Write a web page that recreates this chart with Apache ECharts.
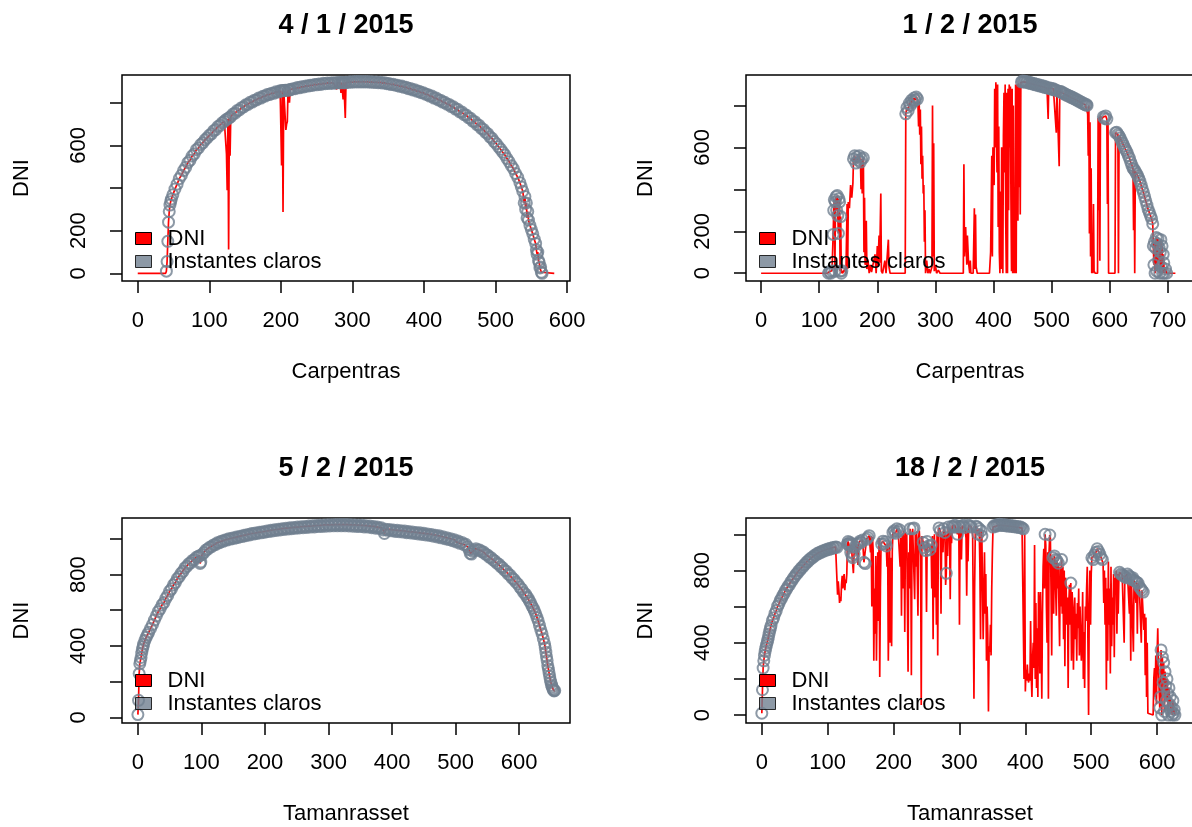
<!DOCTYPE html>
<html><head><meta charset="utf-8">
<script src="https://cdn.jsdelivr.net/npm/echarts@6/dist/echarts.min.js"></script>
<style>html,body{margin:0;padding:0;background:#fff}#c{width:1192px;height:827px}</style>
</head><body><div id="c"></div>
<script>
// ---------------- DATA ----------------
const titles = ['4 / 1 / 2015', '1 / 2 / 2015', '5 / 2 / 2015', '18 / 2 / 2015'];
const sites = ['Carpentras', 'Carpentras', 'Tamanrasset', 'Tamanrasset'];
const legendNames = ['DNI', 'Instantes claros'];

const xTicks1 = [0, 100, 200, 300, 400, 500, 600];
const xTicks2 = [0, 100, 200, 300, 400, 500, 600, 700];
const xTicks3 = [0, 100, 200, 300, 400, 500, 600];
const xTicks4 = [0, 100, 200, 300, 400, 500, 600];
const yTicksTop = [0, 200, 400, 600, 800];
const yLabelsTop = [0, 200, 600];
const yTicksBottom = [0, 200, 400, 600, 800, 1000];
const yLabelsBottom = [0, 400, 800];

// Panel 1 : 4/1/2015 Carpentras  (minute index, DNI)
const p1Time = [0,39,40,41,42,43,44,45,46,47,
49,52,55,58,61,64,67,70,73,76,
79,82,85,88,91,94,97,100,103,106,
109,112,115,118,121,123,124,125,126,127,
128,129,130,133,136,139,142,145,148,151,
154,157,160,163,166,169,172,175,178,181,
184,187,190,193,196,199,200,201,202,203,
204,205,206,207,208,209,210,211,212,213,
214,217,220,223,226,229,232,235,238,241,
244,247,250,253,256,259,262,265,268,271,
274,276,278,279,281,283,284,285,286,287,
288,289,290,291,294,297,300,303,306,309,
312,315,318,321,324,327,330,333,336,339,
342,345,348,351,354,357,360,363,366,369,
372,375,378,381,384,387,390,393,396,399,
402,405,408,411,414,417,420,423,426,429,
432,435,438,441,444,447,450,453,456,459,
462,465,468,471,474,477,480,483,486,489,
492,495,498,501,504,507,510,513,516,519,
522,525,528,531,534,536,538,540,541,542,
543,544,545,546,548,550,552,554,556,557,
558,559,560,561,562,563,564,565,582];
const p1Dni = [0,0,10,55,150,240,290,320,336,348,
368,395,418,444,460,482,497,519,530,550,
560,580,588,604,612,626,635,647,654,668,
674,688,694,706,712,720,560,390,725,112,
730,551,735,747,751,763,766,777,780,790,
792,802,803,812,813,822,822,830,831,838,
838,845,844,851,850,856,855,506,856,288,
857,857,858,672,700,711,860,859,800,861,
862,866,866,871,870,875,874,879,878,882,
881,886,884,888,886,891,889,893,890,894,
891,894,862,894,895,893,846,895,894,815,
895,893,728,896,895,898,896,899,897,899,
897,899,897,899,896,898,895,897,894,896,
892,894,889,890,885,887,882,882,877,878,
872,873,866,867,860,861,854,854,847,847,
840,839,831,831,822,822,813,812,803,802,
793,792,782,781,770,769,757,756,744,742,
730,727,714,711,697,694,680,675,661,655,
640,633,618,608,594,582,568,555,538,523,
505,490,468,450,425,405,385,330,360,300,
330,260,290,250,225,205,185,160,140,110,
90,100,60,50,25,30,5,0,0];
const p1Clear = [[40,123],[126,126],[128,128],[130,200],[202,202],[204,206],[210,211],[213,276],[279,279],[281,283],[285,286],[288,289],[291,565]];

// Panel 2 : 1/2/2015 Carpentras
const p2Time = [0,114,116,118,120,122,124,125,126,127,
128,129,130,131,132,133,134,135,136,137,
138,139,140,144,146,148,149,150,152,154,
156,158,159,161,163,165,167,169,171,172,
173,174,176,177,178,179,180,181,182,184,
186,188,190,193,196,198,200,201,203,204,
206,207,209,213,215,219,220,222,248,249,
251,253,255,257,259,261,263,265,267,269,
270,271,272,273,274,275,276,277,278,279,
280,281,282,283,285,287,289,291,294,295,
296,297,298,300,302,305,308,348,349,350,
352,354,355,357,359,360,361,365,367,368,
369,370,372,393,395,396,397,398,399,401,
402,403,404,405,406,407,408,409,410,411,
412,413,414,415,416,417,418,419,420,421,
422,423,424,425,426,427,428,429,430,431,
432,433,434,435,436,437,438,439,440,441,
442,443,444,445,446,447,448,450,452,454,
456,458,460,462,464,466,468,470,472,474,
476,478,480,482,484,486,488,490,492,494,
495,497,499,501,503,505,506,508,509,511,
513,514,516,518,520,522,524,526,528,530,
532,534,536,538,540,542,544,546,548,550,
552,554,556,558,560,561,562,563,564,565,
566,567,568,569,570,571,572,573,575,579,
580,581,582,583,584,586,588,589,591,593,
595,596,597,598,609,610,612,614,615,616,
618,620,622,624,626,628,630,632,634,636,
638,640,641,642,643,644,646,648,650,652,
654,656,658,660,662,664,666,668,670,672,
674,675,676,677,678,679,680,681,682,683,
684,685,686,687,688,689,690,691,692,693,
694,696,698,700,713];
const p2Dni = [0,0,0,8,0,12,185,300,350,10,
340,365,300,370,275,190,355,340,10,270,
0,12,0,20,0,330,20,340,310,420,
360,430,545,560,525,555,540,560,530,400,
545,380,550,100,360,40,120,250,20,60,
0,40,5,0,90,0,130,30,180,50,
380,10,0,60,0,160,30,0,0,760,
790,775,810,800,825,815,835,825,840,830,
800,700,820,660,780,520,700,450,560,380,
420,150,300,0,60,0,20,0,30,800,
80,620,10,40,0,15,0,0,520,80,
220,40,180,50,0,60,0,0,310,20,
280,30,0,0,100,330,560,80,600,420,
880,600,910,700,480,900,220,700,100,0,
390,20,600,350,0,650,860,480,900,250,
0,860,0,880,300,900,600,890,350,10,
880,0,800,0,350,0,900,0,870,900,
250,905,410,895,280,910,912,916,912,915,
910,913,907,910,904,907,901,904,898,901,
895,898,892,895,889,892,886,889,883,735,
884,880,882,876,879,873,875,670,871,868,
510,866,866,860,860,854,854,848,849,843,
844,837,839,832,833,826,827,820,821,814,
815,808,809,803,804,800,760,560,800,190,
720,80,500,0,80,0,330,10,0,0,
740,300,745,60,750,735,742,745,738,750,
735,330,720,0,0,670,672,662,0,655,
645,632,620,608,596,585,575,560,548,530,
515,500,205,495,0,485,475,465,452,438,
420,402,385,365,345,325,305,290,275,260,
235,130,40,150,0,120,170,10,140,165,
60,120,0,100,160,30,130,0,90,50,
0,20,0,0,0];
const p2Clear = [[116,139],[159,171],[173,173],[176,176],[249,269],[448,492],[495,506],[509,509],[514,561],[589,595],[610,614],[616,640],[642,642],[644,698]];

// Panel 3 : 5/2/2015 Tamanrasset
const p3Time = [0,1,2,3,4,5,6,7,8,9,
11,13,15,17,20,23,26,29,32,35,
38,41,44,47,50,53,56,59,62,65,
68,71,74,77,80,83,86,89,92,95,
97,98,99,101,104,107,110,113,116,119,
122,125,128,131,134,137,140,143,146,149,
152,155,158,161,164,167,170,173,176,179,
182,185,188,191,194,197,200,203,206,209,
212,215,218,221,224,227,230,233,236,239,
242,245,248,251,254,257,260,263,266,269,
272,275,278,281,284,287,290,293,296,299,
302,305,308,311,314,317,320,323,326,329,
332,335,338,341,344,347,350,353,356,359,
362,365,368,371,374,377,380,383,386,388,
390,393,396,399,402,405,408,411,414,417,
420,423,426,429,432,435,438,441,444,447,
450,453,456,459,462,465,468,471,474,477,
480,483,486,489,492,495,498,501,504,507,
510,513,516,519,521,523,525,527,529,532,
535,538,541,544,547,550,553,556,559,562,
565,568,571,574,577,580,583,586,589,592,
595,598,601,604,607,610,612,614,616,618,
620,622,624,626,628,630,632,634,636,638,
640,641,642,643,644,645,646,647,648,649,
650,651,652,653,654,655,656];
const p3Dni = [15,95,245,300,318,335,360,380,395,410,
430,448,462,476,498,520,545,568,592,608,
630,643,667,683,707,720,742,755,777,788,
807,818,837,846,860,866,879,884,897,901,
906,862,870,912,923,937,943,953,956,966,
968,978,978,986,986,994,993,1000,999,1005,
1003,1010,1008,1015,1013,1020,1018,1025,1022,1030,
1027,1033,1030,1037,1034,1040,1037,1044,1041,1048,
1044,1051,1047,1054,1050,1057,1053,1060,1055,1062,
1057,1064,1059,1066,1061,1068,1063,1070,1064,1072,
1066,1073,1067,1075,1069,1076,1070,1078,1071,1079,
1072,1079,1073,1080,1073,1080,1073,1080,1073,1080,
1072,1079,1071,1078,1070,1077,1069,1076,1067,1074,
1066,1072,1063,1070,1060,1066,1058,1062,1050,1030,
1054,1048,1053,1045,1050,1042,1048,1040,1046,1038,
1044,1035,1041,1033,1039,1030,1036,1028,1034,1025,
1031,1022,1028,1019,1025,1015,1021,1011,1017,1006,
1012,1001,1007,996,1001,990,995,983,988,975,
980,968,970,955,940,918,915,930,938,945,
938,937,928,926,914,910,898,894,882,876,
864,858,845,838,824,818,802,796,780,772,
757,747,730,718,700,690,675,668,652,642,
625,612,597,580,560,540,515,490,468,440,
412,390,365,340,318,290,270,250,230,210,
195,180,170,160,152,148,150];
const p3Clear = [[0,656]];

// Panel 4 : 18/2/2015 Tamanrasset
const p4Time = [0,1,2,3,4,5,6,7,8,9,
10,11,12,13,14,16,18,20,22,24,
26,28,30,32,34,36,38,40,42,44,
46,48,50,52,54,56,58,60,62,64,
66,68,70,72,74,76,78,80,82,84,
86,88,90,92,94,96,98,100,102,104,
106,108,110,112,114,115,116,117,118,119,
120,121,122,123,124,125,126,127,128,129,
130,131,132,133,134,135,136,137,138,139,
140,142,144,146,147,149,151,153,155,157,
159,161,163,164,165,166,167,168,169,170,
171,172,173,174,175,176,177,178,179,180,
181,182,184,186,188,189,190,191,192,193,
194,195,196,197,198,199,201,203,205,207,
209,210,211,212,213,214,215,216,217,218,
219,220,222,223,224,225,226,227,228,229,
231,232,233,234,235,237,238,239,241,242,
243,245,247,249,250,251,253,255,257,258,
259,260,261,262,263,264,265,266,267,268,
269,271,272,273,275,276,278,279,280,281,
282,283,285,286,287,288,289,291,293,295,
297,299,300,301,303,304,306,308,310,311,
312,313,314,316,318,320,322,323,324,325,
327,328,330,331,332,333,334,336,337,338,
339,340,341,342,343,344,345,346,347,348,
349,350,351,353,355,357,359,361,363,365,
367,369,371,373,375,377,379,381,383,385,
387,389,391,393,395,397,398,
399,400,401,402,403,404,405,406,407,408,
409,410,411,412,413,414,415,416,417,418,
419,420,421,422,423,424,425,426,427,428,
429,430,431,432,433,434,435,436,437,438,
439,440,441,442,443,444,445,446,447,448,
449,450,451,452,453,454,455,456,457,458,
459,460,461,462,463,464,465,466,467,468,
469,470,471,472,473,474,475,476,477,478,
479,480,481,482,483,484,485,486,487,488,
489,490,491,492,493,494,495,496,497,498,
499,500,501,503,505,507,509,511,513,515,
517,518,519,520,521,522,523,524,525,526,
527,528,529,530,531,532,533,534,535,536,
537,538,539,540,541,542,543,545,547,549,
550,551,553,555,557,558,559,560,561,563,
564,565,567,568,569,570,571,573,575,576,
577,579,580,581,582,583,584,585,586,587,
594,595,596,597,598,599,600,601,602,603,
604,605,606,607,608,609,610,611,612,613,
614,615,616,617,618,619,620,621,622,623,
624,625,626,627];
const p4Dni = [10,140,260,300,330,352,370,386,400,414,
430,448,465,480,495,522,538,562,578,602,
615,634,646,662,673,690,698,714,720,737,
743,758,766,779,784,798,801,814,818,830,
834,846,849,860,862,872,874,884,884,893,
893,901,900,908,906,913,912,918,916,922,
920,927,925,930,928,665,740,690,620,650,
630,720,770,700,760,780,690,750,730,780,
945,960,948,938,955,900,945,880,870,785,
890,930,945,830,950,962,955,968,845,838,
972,982,992,1000,900,990,600,985,910,300,
700,450,880,300,640,900,520,980,210,700,
950,945,962,948,958,935,820,950,300,600,
960,400,870,380,900,1010,1020,1005,1030,1015,
1025,820,980,550,1000,700,1020,930,460,1010,
880,1000,240,900,700,1030,980,220,990,1030,
1035,640,1000,820,1015,550,980,1020,880,55,
990,955,925,910,570,960,935,915,940,700,
990,420,880,1000,650,900,500,1010,330,1020,
1035,1020,560,1000,900,1030,1010,720,784,1000,
880,1040,1000,640,1030,950,1045,1040,1050,1040,
1000,1045,500,1040,860,1045,1050,1038,980,660,
1020,850,1050,1045,1040,1000,90,700,1000,1045,
1040,1000,1030,820,420,1020,990,420,650,900,
560,780,300,600,450,20,380,350,500,330,
700,900,1040,1048,1044,1052,1050,1055,1049,1053,
1048,1052,1046,1050,1045,1049,1043,1047,1041,1045,
1039,1043,1037,1040,1034,1030,200,
1000,130,250,190,280,200,180,230,190,520,
210,100,320,400,260,940,200,620,150,480,
100,680,620,230,680,420,90,560,820,920,
700,1000,940,600,400,900,90,900,996,980,
700,330,870,870,560,880,850,860,550,855,
700,840,600,380,820,600,860,560,820,420,
800,270,760,700,500,650,150,620,720,500,
730,300,680,600,250,500,650,420,560,300,
620,480,700,330,600,590,300,420,680,200,
460,150,600,520,700,820,400,0,600,800,
500,780,870,860,885,900,920,905,890,870,
860,840,620,800,500,760,140,700,300,850,
500,700,230,820,380,650,500,780,320,760,
700,800,450,780,560,760,790,780,775,770,
400,765,760,780,770,560,765,300,750,760,
350,745,740,620,735,450,730,710,700,400,
690,680,470,560,220,540,100,400,10,0,
0,200,260,100,330,60,330,480,250,150,
40,100,360,0,320,180,290,20,240,160,
80,200,120,0,150,60,100,20,40,0,
80,10,30,0];
const p4Clear = [[0,114],[130,138],[140,145],[147,163],[182,189],[199,209],[225,225],[229,231],[245,249],[251,257],[269,271],[276,278],[280,280],[283,283],[289,299],[301,302],[304,309],[314,319],[325,330],[333,335],[351,397],[430,430],[437,437],[442,442],[444,444],[446,446],[448,448],[450,450],[455,455],[469,469],[501,517],[543,549],[551,557],[559,559],[561,563],[565,567],[569,569],[571,575],[577,579],[604,627]];

// ---------------- LAYOUT / STYLE ----------------
const FONT = '"Liberation Sans", Arial, Helvetica, sans-serif';
const RED = '#ff0000';
const GREY = '#708090';
const FS = 22;

const panels = [
  {time: p1Time, dni: p1Dni, clear: p1Clear, xr: [-22, 604], yr: [-36, 930], xt: xTicks1, yt: yTicksTop, yl: yLabelsTop, g: {left: 122, top: 75, width: 448, height: 206}},
  {time: p2Time, dni: p2Dni, clear: p2Clear, xr: [-26, 745], yr: [-37, 945], xt: xTicks2, yt: yTicksTop, yl: yLabelsTop, g: {left: 746, top: 75, width: 448, height: 206}},
  {time: p3Time, dni: p3Dni, clear: p3Clear, xr: [-25, 680], yr: [-32, 1117], xt: xTicks3, yt: yTicksBottom, yl: yLabelsBottom, g: {left: 122, top: 518, width: 448, height: 205}},
  {time: p4Time, dni: p4Dni, clear: p4Clear, xr: [-24, 656], yr: [-44, 1090], xt: xTicks4, yt: yTicksBottom, yl: yLabelsBottom, g: {left: 746, top: 518, width: 448, height: 205}}
];

function isClear(t, ranges) {
  for (const r of ranges) if (t >= r[0] && t <= r[1]) return true;
  return false;
}

const grids = [], xAxes = [], yAxes = [], series = [], titleOpts = [], legends = [];
panels.forEach((p, i) => {
  const n = Math.min(p.time.length, p.dni.length);
  const line = [];
  const pts = [];
  for (let k = 0; k < n; k++) {
    line.push([p.time[k], p.dni[k]]);
    if (isClear(p.time[k], p.clear)) pts.push([p.time[k], p.dni[k]]);
  }
  grids.push(Object.assign({}, p.g, {
    show: true, borderColor: '#000', borderWidth: 1.5, backgroundColor: 'transparent',
    containLabel: false, outerBoundsMode: 'none'
  }));
  const tickStyle = {color: '#000', width: 1.5};
  xAxes.push({
    gridIndex: i, type: 'value', min: p.xr[0], max: p.xr[1],
    name: sites[i], nameLocation: 'middle', nameGap: 80,
    nameTextStyle: {fontSize: FS, color: '#000', fontFamily: FONT},
    axisLine: {show: false, onZero: false},
    axisTick: {show: true, inside: false, length: 12, customValues: p.xt, lineStyle: tickStyle},
    axisLabel: {customValues: p.xt, margin: 29, fontSize: FS, color: '#000', fontFamily: FONT},
    splitLine: {show: false}
  });
  yAxes.push({
    gridIndex: i, type: 'value', min: p.yr[0], max: p.yr[1],
    name: 'DNI', nameLocation: 'middle', nameGap: 89, nameRotate: 90,
    nameTextStyle: {fontSize: FS, color: '#000', fontFamily: FONT},
    axisLine: {show: false, onZero: false},
    axisTick: {show: true, inside: false, length: 12, customValues: p.yt, lineStyle: tickStyle},
    axisLabel: {customValues: p.yl, rotate: 90, margin: 32, fontSize: FS, color: '#000', fontFamily: FONT},
    splitLine: {show: false}
  });
  series.push({
    type: 'line', name: legendNames[0], xAxisIndex: i, yAxisIndex: i, data: line,
    showSymbol: false, symbol: 'none', silent: true, z: 2,
    lineStyle: {color: RED, width: 1.7}, itemStyle: {color: RED}
  });
  series.push({
    type: 'scatter', name: legendNames[1], xAxisIndex: i, yAxisIndex: i, data: pts,
    symbol: 'circle', symbolSize: 11, silent: true, z: 3,
    itemStyle: {color: 'rgba(0,0,0,0)', borderColor: GREY, borderWidth: 2}
  });
  titleOpts.push({
    text: titles[i], left: p.g.left + p.g.width / 2, top: p.g.top - 63, textAlign: 'center', padding: 0,
    textStyle: {fontSize: 27, fontWeight: 'bold', color: '#000', fontFamily: FONT}
  });
  legends.push({
    left: p.g.left + 13, top: p.g.top + p.g.height - 54, orient: 'vertical', padding: 0, itemGap: 0,
    itemWidth: 16, itemHeight: 12, selectedMode: false,
    textStyle: {fontSize: FS, color: '#000', fontFamily: FONT, lineHeight: 23, padding: [0, 0, 0, 11]},
    data: [
      {name: legendNames[0], icon: 'rect', itemStyle: {color: RED, borderColor: '#000', borderWidth: 1}},
      {name: legendNames[1], icon: 'rect', itemStyle: {color: GREY, borderColor: '#000', borderWidth: 1}}
    ]
  });
});

const chart = echarts.init(document.getElementById('c'), null, {renderer: 'canvas'});
chart.setOption({
  animation: false,
  backgroundColor: '#fff',
  title: titleOpts,
  legend: legends,
  grid: grids,
  xAxis: xAxes,
  yAxis: yAxes,
  series: series
});
</script>
</body></html>
